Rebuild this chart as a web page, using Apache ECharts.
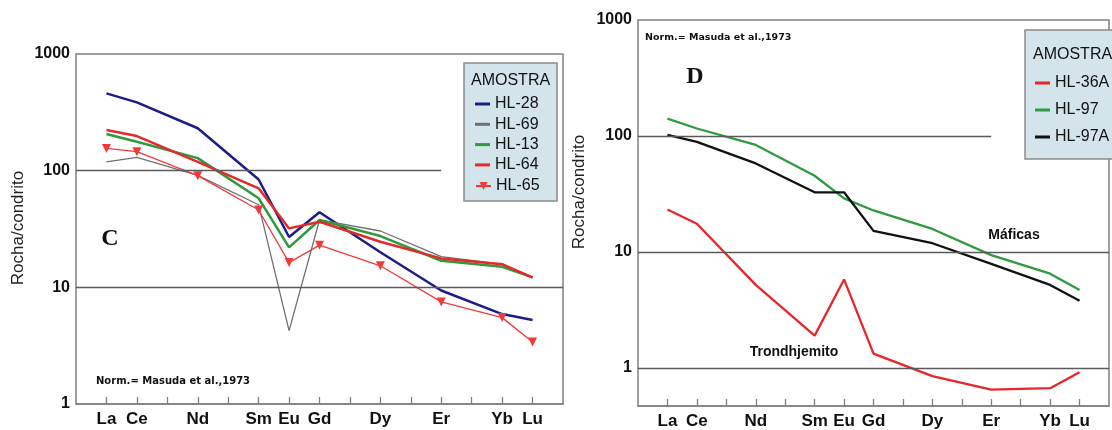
<!DOCTYPE html>
<html>
<head>
<meta charset="utf-8">
<title>ETR normalizados ao condrito</title>
<script src="https://cdn.jsdelivr.net/npm/echarts/dist/echarts.min.js"></script>
<style>
    html, body { margin: 0; padding: 0; background: #fff; }
    #chart { width: 1112px; height: 430px; }
</style>
</head>
<body>
<div id="chart"></div>
<script>
// all 15 REE positions on the axis, plus an empty slot at each end
var ree = ['', 'La', 'Ce', 'Pr', 'Nd', 'Pm', 'Sm', 'Eu', 'Gd', 'Tb', 'Dy', 'Ho', 'Er', 'Tm', 'Yb', 'Lu', ' '];
// elements that were analysed (and labelled)
var measured = ['La', 'Ce', 'Nd', 'Sm', 'Eu', 'Gd', 'Dy', 'Er', 'Yb', 'Lu'];

// painel C
var hl28 = [460, 385, 231, 84, 27, 44, 20, 9.4, 5.9, 5.25];
var hl69 = [119, 130, 91, 51, 4.25, 37.8, 30.4, 18.3, 15.8, 12.2];
var hl13 = [206, 177, 128, 58, 22, 37.8, 27.5, 16.9, 15, 12.2];
var hl64 = [223, 198, 119, 70.6, 32, 36.5, 24.6, 17.7, 15.8, 12.1];
var hl65 = [155, 145.5, 90.6, 46, 16.3, 23, 15.3, 7.5, 5.5, 3.4];

// painel D
var hl36a = [23.2, 17.5, 5.2, 1.9, 5.8, 1.33, 0.85, 0.65, 0.67, 0.92];
var hl97 = [141, 116, 83.7, 45.4, 29, 22.8, 15.8, 9.4, 6.5, 4.7];
var hl97a = [102, 89, 58, 32.7, 32.7, 15.2, 11.9, 7.9, 5.2, 3.8];

// spread the measured values over the full REE axis (gaps -> null)
function toAxis(vals) {
    return ree.map(function (el) {
        var i = measured.indexOf(el);
        return i < 0 ? null : vals[i];
    });
}

var FONT = 'Liberation Sans, Arial, sans-serif';
var gridLineStyle = { color: '#5a5a5a', width: 1.4, type: 'solid' };

function xAxisFor(gi) {
    return {
        type: 'category',
        gridIndex: gi,
        boundaryGap: false,
        data: ree,
        axisLine: { show: true, lineStyle: { color: '#808080', width: 1.5 } },
        axisTick: {
            show: true,
            inside: true,
            length: 7,
            interval: function (idx, val) { return idx > 0 && idx < ree.length - 1; },
            lineStyle: { color: '#808080', width: 1.3 }
        },
        axisLabel: {
            interval: 0,
            margin: 7,
            fontFamily: FONT,
            fontWeight: 'bold',
            fontSize: 17,
            color: '#111',
            formatter: function (v) { return measured.indexOf(v) >= 0 ? v : ''; }
        },
        splitLine: { show: false }
    };
}

function yAxisFor(gi, min) {
    return {
        type: 'log',
        logBase: 10,
        gridIndex: gi,
        min: min,
        max: 1000,
        axisLine: { show: false },
        axisTick: { show: false },
        splitLine: { show: false },
        axisLabel: {
            margin: 6,
            fontFamily: FONT,
            fontWeight: 'bold',
            fontSize: 16,
            color: '#111',
            formatter: function (v) {
                var e = Math.log10(v);
                if (Math.abs(e - Math.round(e)) > 1e-6) return '';
                return String(Math.round(v));
            }
        }
    };
}

// reference lines at 1 / 10 / 100 (the 100 line stops short of the legend box)
function guides(lines) {
    return {
        silent: true,
        symbol: 'none',
        label: { show: false },
        lineStyle: gridLineStyle,
        data: lines.map(function (l) {
            return [{ coord: [l[0], l[2]] }, { coord: [l[1], l[2]] }];
        })
    };
}

function line(name, vals, color, width, xi, extra) {
    var s = {
        name: name,
        type: 'line',
        xAxisIndex: xi,
        yAxisIndex: xi,
        data: toAxis(vals),
        connectNulls: true,
        symbol: 'none',
        smooth: false,
        lineStyle: { color: color, width: width },
        itemStyle: { color: color },
        z: 3
    };
    for (var k in extra) s[k] = extra[k];
    return s;
}

var legendText = { fontFamily: FONT, fontSize: 16, color: '#111', lineHeight: 16 };

function legendBox(left, top, gap, names, plain) {
    return {
        orient: 'vertical',
        left: left,
        top: top,
        itemWidth: 15,
        itemHeight: plain ? 3 : 10,
        itemGap: gap,
        icon: plain ? 'rect' : undefined,
        selectedMode: false,
        textStyle: legendText,
        data: names
    };
}

option = {
    backgroundColor: '#fff',
    animation: false,
    grid: [
        { left: 76, top: 54, width: 487, height: 350, show: true, borderColor: '#808080', borderWidth: 1.5 },
        { left: 638, top: 20, width: 484, height: 387, show: true, borderColor: '#808080', borderWidth: 1.5 }
    ],
    xAxis: [xAxisFor(0), xAxisFor(1)],
    yAxis: [yAxisFor(0, 1), yAxisFor(1, 0.47)],
    legend: [
        legendBox(470, 91, 4.3, ['HL-28', 'HL-69', 'HL-13', 'HL-64'], true),
        legendBox(470, 173, 4.3, ['HL-65'], false),
        legendBox(1030, 70, 11, ['HL-36A', 'HL-97', 'HL-97A'], true)
    ],
    graphic: [
        // legend boxes
        { type: 'rect', shape: { x: 464, y: 63, width: 93, height: 138 }, style: { fill: '#d3e4ea', stroke: '#8a8a8a', lineWidth: 1.5 }, z: 0 },
        { type: 'text', x: 471, y: 81, style: { text: 'AMOSTRA', font: '16px ' + FONT, fill: '#111', textVerticalAlign: 'middle' }, z: 1 },
        { type: 'rect', shape: { x: 1025, y: 30, width: 100, height: 129 }, style: { fill: '#d3e4ea', stroke: '#8a8a8a', lineWidth: 1.5 }, z: 0 },
        { type: 'text', x: 1033, y: 55, style: { text: 'AMOSTRA', font: '16px ' + FONT, fill: '#111', textVerticalAlign: 'middle' }, z: 1 },
        // axis names
        { type: 'text', x: 18, y: 228, rotation: Math.PI / 2, style: { text: 'Rocha/condrito', font: '17px ' + FONT, fill: '#222', textAlign: 'center', textVerticalAlign: 'middle' } },
        { type: 'text', x: 579, y: 192, rotation: Math.PI / 2, style: { text: 'Rocha/condrito', font: '17px ' + FONT, fill: '#222', textAlign: 'center', textVerticalAlign: 'middle' } },
        // panel letters
        { type: 'text', x: 110, y: 239, style: { text: 'C', font: 'bold 24px Liberation Serif, serif', fill: '#111', textAlign: 'center', textVerticalAlign: 'middle' } },
        { type: 'text', x: 695, y: 77, style: { text: 'D', font: 'bold 24px Liberation Serif, serif', fill: '#111', textAlign: 'center', textVerticalAlign: 'middle' } },
        // normalisation note
        { type: 'text', x: 96, y: 381, style: { text: 'Norm.= Masuda et al.,1973', font: 'bold 10px DejaVu Sans, sans-serif', fill: '#111', textVerticalAlign: 'middle' } },
        { type: 'text', x: 645, y: 38, style: { text: 'Norm.= Masuda et al.,1973', font: 'bold 9.5px DejaVu Sans, sans-serif', fill: '#111', textVerticalAlign: 'middle' } },
        // group labels
        { type: 'text', x: 1014, y: 235, style: { text: 'Máficas', font: 'bold 14px ' + FONT, fill: '#111', textAlign: 'center', textVerticalAlign: 'middle' } },
        { type: 'text', x: 794, y: 352, style: { text: 'Trondhjemito', font: 'bold 14px ' + FONT, fill: '#111', textAlign: 'center', textVerticalAlign: 'middle' } }
    ],
    series: [
        line('HL-28', hl28, '#1d1d86', 2.5, 0, {
            markLine: guides([[0, 12, 100], [0, 16, 10]])
        }),
        line('HL-69', hl69, '#707070', 1.3, 0),
        line('HL-13', hl13, '#2f9a3d', 2.5, 0),
        line('HL-64', hl64, '#e52a2a', 2.5, 0),
        line('HL-65', hl65, '#f03a3a', 1.3, 0, {
            symbol: 'triangle',
            symbolRotate: 180,
            symbolSize: 9,
            showSymbol: true,
            showAllSymbol: true
        }),
        line('HL-36A', hl36a, '#e8262a', 2.3, 1, {
            markLine: guides([[0, 12, 100], [0, 16, 10], [0, 16, 1]])
        }),
        line('HL-97', hl97, '#2f9a3f', 2.3, 1),
        line('HL-97A', hl97a, '#111111', 2.3, 1)
    ]
};

var myChart = echarts.init(document.getElementById('chart'));
myChart.setOption(option);
</script>
</body>
</html>
